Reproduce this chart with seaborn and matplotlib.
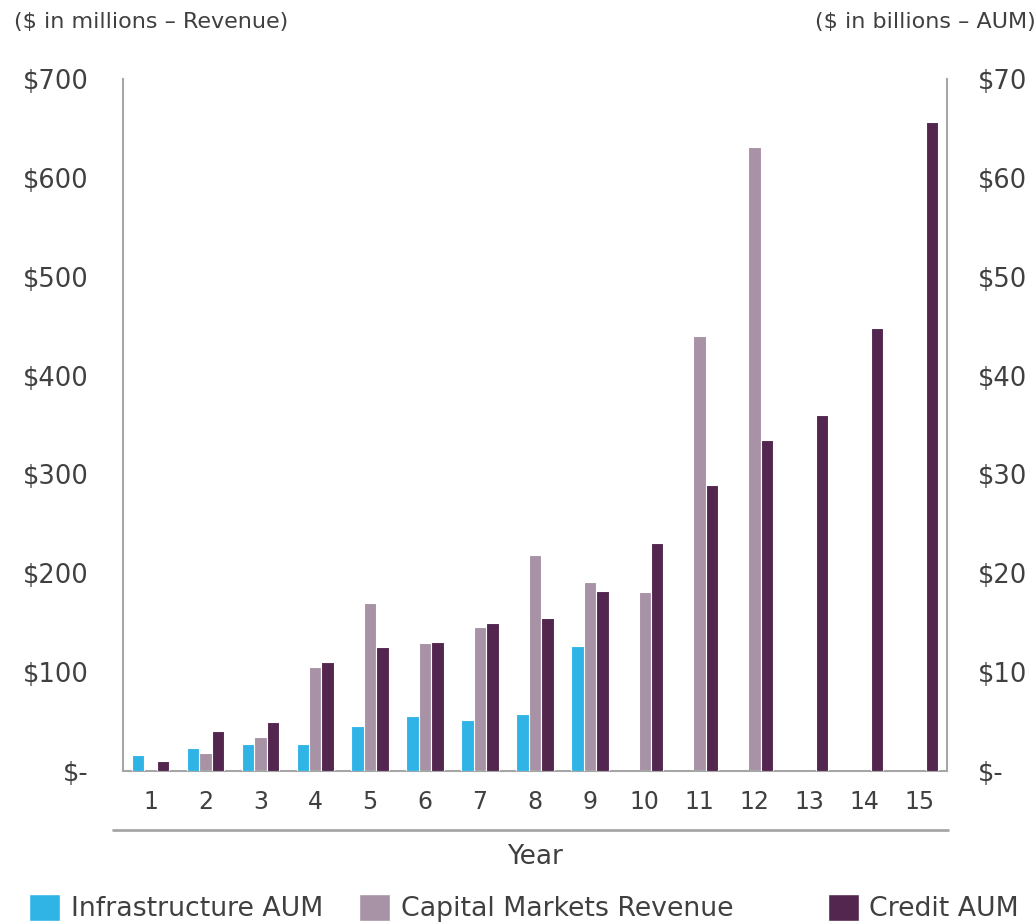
import numpy as np
import pandas as pd
import matplotlib
matplotlib.use("Agg")
import matplotlib.pyplot as plt
from matplotlib.patches import Patch
from matplotlib.lines import Line2D
import seaborn as sns

# ---- data ----
years = list(range(1, 16))
infra_aum = [1.6, 2.3, 2.7, 2.7, 4.5, 5.6, 5.2, 5.8, 12.6,
             np.nan, np.nan, np.nan, np.nan, np.nan, np.nan]          # $bn
capmkt_rev = [0, 18, 34, 105, 170, 129, 146, 218, 191, 181, 440, 631,
              np.nan, np.nan, np.nan]                                  # $mm
credit_aum = [1.0, 4.0, 5.0, 11.0, 12.5, 13.0, 15.0, 15.5, 18.2, 23.1,
              28.9, 33.5, 36.0, 44.8, 65.6]                            # $bn

series = ["Infrastructure AUM", "Capital Markets Revenue", "Credit AUM"]
colors = ["#30b4e6", "#a892a6", "#53264f"]

left_ticks = [0, 100, 200, 300, 400, 500, 600, 700]
left_labels = ["$-", "$100", "$200", "$300", "$400", "$500", "$600", "$700"]
right_ticks = [0, 10, 20, 30, 40, 50, 60, 70]
right_labels = ["$-", "$10", "$20", "$30", "$40", "$50", "$60", "$70"]

df = pd.DataFrame({
    "Year": years * 3,
    "Value": infra_aum + capmkt_rev + credit_aum,
    "Series": [series[0]] * 15 + [series[1]] * 15 + [series[2]] * 15,
}).dropna()
df_rev = df[df["Series"] == "Capital Markets Revenue"]
df_aum = df[df["Series"] != "Capital Markets Revenue"]

sns.set_style("white")
plt.rcParams["font.family"] = ["DejaVu Sans"]
txt = "#404040"
grey = "#a6a6a6"

fig = plt.figure(figsize=(10.36, 9.24), dpi=100)
ax = fig.add_axes([0.1187, 0.1656, 0.7953, 0.749])
ax2 = ax.twinx()

# revenue on the left ($mm), AUM on the right ($bn); same hue slots on both
bar_kw = dict(x="Year", y="Value", hue="Series", hue_order=series, order=years,
              palette=colors, width=0.68, saturation=1, legend=False, dodge=True,
              edgecolor="white", linewidth=0.8)
sns.barplot(data=df_rev, ax=ax, **bar_kw)
sns.barplot(data=df_aum, ax=ax2, **bar_kw)

ax.set_ylim(0, 700)
ax2.set_ylim(0, 70)
ax.set_xlim(-0.5, 14.5)
ax2.set_xlim(-0.5, 14.5)

ax.set_yticks(left_ticks)
ax.set_yticklabels(left_labels, fontsize=18.5, color=txt)
ax2.set_yticks(right_ticks)
ax2.set_yticklabels(right_labels, fontsize=18.5, color=txt)
ax.set_xticks(range(len(years)))
ax.set_xticklabels([str(y) for y in years], fontsize=17, color=txt)

ax.tick_params(axis="y", length=0, pad=25)
ax2.tick_params(axis="y", length=0, pad=22)
ax.tick_params(axis="x", length=0, pad=14)

ax.set_xlabel("Year", fontsize=19, color=txt, labelpad=21)
ax.set_ylabel("")
ax2.set_ylabel("")

for a in (ax, ax2):
    a.spines["top"].set_visible(False)
    for s in ("left", "right", "bottom"):
        a.spines[s].set_color(grey)
        a.spines[s].set_linewidth(1.5)
ax.spines["right"].set_visible(False)
ax2.spines["left"].set_visible(False)
ax2.spines["bottom"].set_visible(False)

# second rule under the year labels
fig.add_artist(Line2D([0.109, 0.915], [0.1017, 0.1017], color=grey, lw=2,
                      transform=fig.transFigure))

fig.text(0.0135, 0.976, "($ in millions \u2013 Revenue)", fontsize=16,
         color=txt, ha="left", va="center")
fig.text(1.0, 0.976, "($ in billions \u2013 AUM)", fontsize=16,
         color=txt, ha="right", va="center")

legend_x = [0.028, 0.347, 0.799]
for name, col, lx in zip(series, colors, legend_x):
    fig.legend(handles=[Patch(facecolor=col, label=name)], loc="center left",
               bbox_to_anchor=(lx, 0.017), frameon=False, fontsize=19.3,
               handlelength=1.15, handleheight=1.15, handletextpad=0.4,
               borderpad=0, borderaxespad=0, labelcolor=txt)

fig.savefig("out.png", dpi=100)
